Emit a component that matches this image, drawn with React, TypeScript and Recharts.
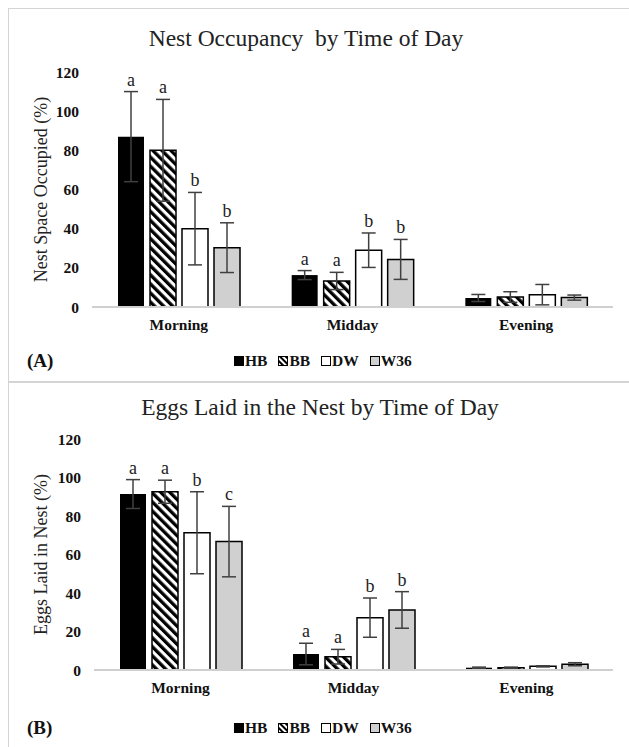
import React from "react";
import { BarChart, Bar, XAxis, YAxis, ErrorBar, LabelList } from "recharts";

const categories = ["Morning", "Midday", "Evening"];
const groups = ["HB", "BB", "DW", "W36"];
const yTicks = [0, 20, 40, 60, 80, 100, 120];

// (A) nest space occupied, %
const nestHB = [87, 16.3, 4.6];
const nestBB = [80, 13.3, 5.1];
const nestDW = [40, 29, 6.3];
const nestW36 = [30.3, 24.3, 4.8];
const nestHBErr = [23, 2.3, 1.8];
const nestBBErr = [26, 4.4, 2.7];
const nestDWErr = [18.5, 8.8, 5.2];
const nestW36Err = [12.7, 10.2, 1.3];
const nestHBSig = ["a", "a", ""];
const nestBBSig = ["a", "a", ""];
const nestDWSig = ["b", "b", ""];
const nestW36Sig = ["b", "b", ""];

// (B) eggs laid in nest, %
const eggHB = [91.4, 8.3, 1.2];
const eggBB = [92.6, 6.9, 1.2];
const eggDW = [71.3, 27.2, 1.9];
const eggW36 = [66.7, 31.2, 3.0];
const eggHBErr = [7.5, 5.6, 0.3];
const eggBBErr = [6, 3.8, 0.3];
const eggDWErr = [21.3, 10.2, 0.3];
const eggW36Err = [18.3, 9.5, 0.8];
const eggHBSig = ["a", "a", ""];
const eggBBSig = ["a", "a", ""];
const eggDWSig = ["b", "b", ""];
const eggW36Sig = ["c", "b", ""];

const SERIF = "'Liberation Serif', 'Times New Roman', serif";
const ERR = "#404040";
const FRAME = "#d4d4d4";

function buildRows(means: number[][], errs: number[][], sigs: string[][]) {
  return categories.map((cat, i) => {
    const row: any = { cat };
    groups.forEach((g, k) => {
      row[g] = means[k][i];
      row[g + "Err"] = errs[k][i];
      row[g + "Sig"] = sigs[k][i];
    });
    return row;
  });
}

const nestRows = buildRows(
  [nestHB, nestBB, nestDW, nestW36],
  [nestHBErr, nestBBErr, nestDWErr, nestW36Err],
  [nestHBSig, nestBBSig, nestDWSig, nestW36Sig]
);
const eggRows = buildRows(
  [eggHB, eggBB, eggDW, eggW36],
  [eggHBErr, eggBBErr, eggDWErr, eggW36Err],
  [eggHBSig, eggBBSig, eggDWSig, eggW36Sig]
);

// letter sits just above the error bar cap
const sigLabel = (rows: any[], g: string) => (p: any) => {
  const row = rows[p.index];
  if (!row || !row[g + "Sig"]) return null;
  const h = Number(p.height);
  const top = Number(p.y) - (h / row[g]) * row[g + "Err"];
  return (
    <text x={Number(p.x) + Number(p.width) / 2} y={top - 6} textAnchor="middle"
      fontFamily={SERIF} fontSize={18} fill="#222">
      {row[g + "Sig"]}
    </text>
  );
};

function Swatch({ g }: { g: string }) {
  return (
    <svg width={10} height={10} style={{ marginRight: 1 }}>
      <defs>
        <pattern id={"sw" + g} width={4} height={4} patternUnits="userSpaceOnUse" patternTransform="rotate(-45)">
          <rect x={0} y={0} width={2} height={4} fill="#000" />
        </pattern>
      </defs>
      <rect x={0.5} y={0.5} width={9} height={9} stroke="#000" strokeWidth={1}
        fill={g === "HB" ? "#000" : g === "BB" ? "url(#swBB)" : g === "DW" ? "#fff" : "#d0d0d0"} />
    </svg>
  );
}

function LegendRow({ top, tag }: { top: number; tag: string }) {
  return (
    <>
      <div style={{ position: "absolute", left: 27, top: top - 12, fontFamily: SERIF, fontWeight: "bold", fontSize: 19, lineHeight: "24px", color: "#111" }}>
        {tag}
      </div>
      <div style={{ position: "absolute", left: 234, top: top - 10, height: 20, display: "flex", alignItems: "center", fontFamily: SERIF, fontWeight: "bold", fontSize: 15.5, color: "#111" }}>
        {groups.map((g) => (
          <span key={g} style={{ display: "flex", alignItems: "center", marginRight: 11 }}>
            <Swatch g={g} />
            {g}
          </span>
        ))}
      </div>
    </>
  );
}

function Panel({ rows, pid, yLabel, marginTop, height, xAxisHeight, yAxisWidth }: any) {
  const fills: any = { HB: "#000", BB: `url(#${pid})`, DW: "#fff", W36: "#d0d0d0" };
  return (
    <BarChart width={629} height={height} data={rows} barSize={26} barGap={6}
      margin={{ top: marginTop, right: 16, bottom: 0, left: 0 }}>
      <defs>
        <pattern id={pid} width={6.4} height={6.4} patternUnits="userSpaceOnUse" patternTransform="rotate(-45)">
          <rect x={0} y={0} width={6.4} height={6.4} fill="#fff" />
          <rect x={0} y={0} width={3.3} height={6.4} fill="#000" />
        </pattern>
      </defs>
      <XAxis dataKey="cat" height={xAxisHeight} tickLine={false} tickMargin={6}
        axisLine={{ stroke: "#d0d0d0", strokeWidth: 2 }}
        tick={{ fontFamily: SERIF, fontWeight: "bold", fontSize: 15.5, fill: "#111" }} />
      <YAxis domain={[0, 120]} ticks={yTicks} width={yAxisWidth} axisLine={false} tickLine={false} tickMargin={7}
        tick={{ fontFamily: SERIF, fontWeight: "bold", fontSize: 15.5, fill: "#111" }}
        label={{ value: yLabel, angle: -90, position: "insideLeft", offset: 41,
          style: { textAnchor: "middle", fontFamily: SERIF, fontSize: 18, fill: "#222" } }} />
      {groups.map((g) => (
        <Bar key={g} dataKey={g} fill={fills[g]} stroke="#000" strokeWidth={g === "HB" ? 0 : 1.5} isAnimationActive={false}>
          <ErrorBar dataKey={g + "Err"} width={7} stroke={ERR} strokeWidth={1.5} isAnimationActive={false} />
          <LabelList dataKey={g + "Sig"} content={sigLabel(rows, g)} />
        </Bar>
      ))}
    </BarChart>
  );
}

export default function App() {
  return (
    <div style={{ position: "absolute", left: 0, top: 0, width: 629, height: 747, background: "#fff", overflow: "hidden" }}>
      <div style={{ position: "absolute", left: 8, top: 8, width: 621, height: 1, background: FRAME }} />
      <div style={{ position: "absolute", left: 8, top: 8, width: 1, height: 739, background: FRAME }} />
      <div style={{ position: "absolute", left: 8, top: 381, width: 621, height: 2, background: FRAME }} />

      <div style={{ position: "absolute", left: 0, top: 25, width: 612, textAlign: "center", whiteSpace: "pre",
        fontFamily: SERIF, fontSize: 23.5, lineHeight: "26px", color: "#222" }}>
        {"Nest Occupancy  by Time of Day"}
      </div>
      <div style={{ position: "absolute", left: 0, top: 0 }}>
        <Panel rows={nestRows} pid="hatchA" yLabel="Nest Space Occupied (%)"
          marginTop={72} height={340} xAxisHeight={33} yAxisWidth={92} />
      </div>
      <LegendRow top={361} tag="(A)" />

      <div style={{ position: "absolute", left: 0, top: 394, width: 640, textAlign: "center", whiteSpace: "pre",
        fontFamily: SERIF, fontSize: 23.5, lineHeight: "26px", color: "#222" }}>
        {"Eggs Laid in the Nest by Time of Day"}
      </div>
      <div style={{ position: "absolute", left: 0, top: 370 }}>
        <Panel rows={eggRows} pid="hatchB" yLabel="Eggs Laid in Nest (%)"
          marginTop={69} height={330} xAxisHeight={30} yAxisWidth={94} />
      </div>
      <LegendRow top={728} tag="(B)" />
    </div>
  );
}
